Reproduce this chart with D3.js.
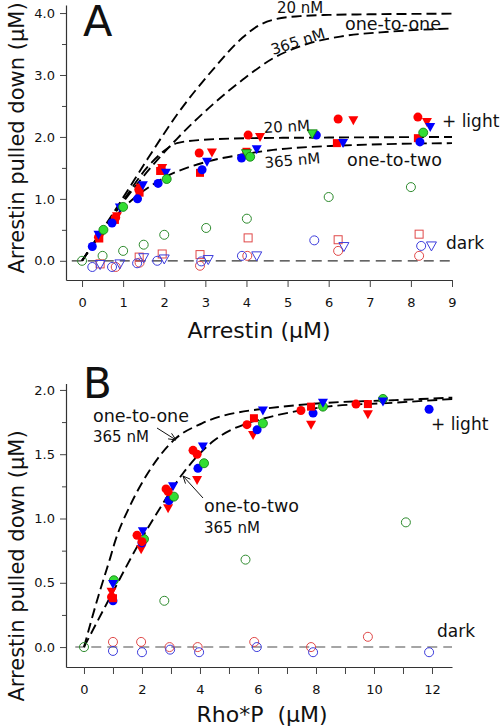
<!DOCTYPE html>
<html><head><meta charset="utf-8">
<script src="https://cdn.jsdelivr.net/npm/d3@7"></script>
<style>
body{margin:0;background:#fff}
svg{display:block}
text{font-family:"DejaVu Sans",Verdana,sans-serif;fill:#111}
</style>
</head><body>
<svg id="chart" width="500" height="728"></svg>
<script>
// ---------- Panel A data ----------
const aXTicks = [0,1,2,3,4,5,6,7,8,9];
const aYTicks = [0,1,2,3,4];
const aYMinor = [0.5,1.5,2.5,3.5];

const aCurve11_20  = [[0,0],[1,1.02],[1.6,1.65],[2.3,2.35],[3.2,3.1],[3.9,3.6],[4.3,3.8],[4.7,3.9],[5.3,3.95],[6,3.97],[7,3.98],[9,3.99]];
const aCurve11_365 = [[0,0],[1,0.95],[1.73,1.55],[2.31,1.97],[3.19,2.53],[3.92,2.93],[4.65,3.27],[5.47,3.5],[6.28,3.62],[7.5,3.7],[9,3.75]];
const aCurve12_20  = [[0,0],[1,0.97],[1.6,1.52],[1.97,1.76],[2.31,1.9],[2.87,1.95],[4.09,1.98],[6,1.99],[9,2.0]];
const aCurve12_365 = [[0,0],[0.5,0.47],[1,0.85],[1.97,1.33],[3.04,1.6],[3.84,1.71],[4.65,1.79],[6.28,1.86],[9,1.9]];

const aLightRedCircle   = [[0.4,0.38],[0.82,0.7],[1.38,1.15],[1.93,1.48],[2.85,1.74],[4.04,2.03],[6.23,2.29],[8.17,2.32]];
const aLightRedSquare   = [[0.42,0.36],[0.8,0.66],[1.4,1.1],[1.9,1.45],[2.87,1.42],[4.0,1.76],[6.2,1.9],[8.17,1.98]];
const aLightRedTri      = [[0.45,0.4],[0.85,0.72],[1.42,1.18],[1.95,1.5],[3.16,1.75],[4.33,2.0],[6.6,2.27],[8.39,2.24]];
const aLightBlueCircle  = [[0.25,0.23],[0.73,0.61],[1.35,1.0],[1.85,1.25],[2.92,1.47],[3.88,1.66],[5.7,2.03],[8.22,1.92]];
const aLightBlueTri     = [[0.4,0.42],[0.92,0.86],[1.48,1.22],[2.04,1.42],[3.04,1.6],[4.25,1.8],[6.35,1.9],[8.47,2.16]];
const aLightGreenCircle = [[0.52,0.5],[1.0,0.87],[2.06,1.32],[4.09,1.68],[8.3,2.07]];
const aLightGreenTri    = [[4.0,1.73],[5.6,2.05]];

const aDarkGreenCircle = [[0,0],[0.5,0.08],[1.0,0.16],[1.5,0.26],[2.0,0.42],[3.02,0.53],[4.01,0.68],[6.0,1.03],[8.0,1.19]];
const aDarkBlueCircle  = [[0.25,-0.1],[0.73,-0.1],[1.34,-0.04],[1.83,0.0],[2.9,-0.01],[3.89,0.08],[5.65,0.33],[8.25,0.24]];
const aDarkRedCircle   = [[0.82,-0.1],[1.4,-0.03],[2.87,-0.08],[4.02,0.08],[6.23,0.16],[8.2,0.08]];
const aDarkRedSquare   = [[0.44,-0.05],[1.39,0.06],[1.95,0.11],[2.87,0.1],[4.04,0.37],[6.23,0.34],[8.2,0.43]];
const aDarkBlueTri     = [[0.44,-0.06],[0.92,-0.05],[1.5,0.05],[2.0,0.03],[3.07,0.02],[4.25,0.08],[6.37,0.23],[8.5,0.24]];

// ---------- Panel B data ----------
const bXTicks = [0,2,4,6,8,10,12];
const bXMinor = [1,3,5,7,9,11];
const bYTicks = [0,0.5,1,1.5,2];
const bYMinor = [0.25,0.75,1.25,1.75];

const bCurve11 = [[0,0],[0.5,0.4],[0.9,0.69],[1.07,0.82],[1.59,1.1],[2.28,1.38],[3.1,1.61],[4.07,1.74],[5.72,1.84],[6.07,1.85],[8.38,1.9],[10.66,1.92],[12.7,1.94]];
const bCurve12 = [[0,0],[1,0.43],[1.93,0.82],[2.62,1.08],[3.41,1.35],[4.45,1.6],[5.62,1.74],[6.07,1.77],[8.38,1.87],[10.66,1.9],[12.7,1.93]];

const bLightRedCircle   = [[0.95,0.39],[1.83,0.87],[2.0,0.82],[2.83,1.23],[2.9,1.21],[3.76,1.53],[3.9,1.5],[5.62,1.73],[7.48,1.84],[9.38,1.89]];
const bLightRedSquare   = [[1.0,0.38],[5.86,1.78],[7.83,1.87],[9.79,1.89]];
const bLightRedTri      = [[0.95,0.43],[1.97,0.76],[2.9,1.08],[3.9,1.3],[5.83,1.65],[7.83,1.73],[9.79,1.81]];
const bLightBlueCircle  = [[1.0,0.36],[2.0,0.81],[2.93,1.14],[3.93,1.39],[5.97,1.69],[7.9,1.82],[11.9,1.85]];
const bLightBlueTri     = [[1.0,0.49],[2.03,0.9],[3.07,1.25],[4.1,1.56],[6.17,1.84],[8.24,1.9],[10.31,1.91]];
const bLightGreenCircle = [[1.03,0.52],[2.07,0.84],[3.1,1.17],[4.14,1.43],[6.17,1.74],[8.24,1.87],[10.31,1.93]];

const bDarkGreenCircle = [[0,0],[2.77,0.36],[5.57,0.68],[11.1,0.97]];
const bDarkRedCircle   = [[1.0,0.04],[1.97,0.04],[2.95,0.0],[3.92,0.0],[5.87,0.04],[7.83,0.0],[9.79,0.08]];
const bDarkBlueCircle  = [[1.0,-0.03],[2.0,-0.04],[2.97,-0.02],[3.97,-0.04],[5.96,0.0],[7.9,-0.04],[11.9,-0.04]];

// ---------- styles ----------
const RED = "#ff0000", BLUE = "#0000ff", GREEN = "#33dd33", GREEN_EDGE = "#0a7a0a";
const RED_O = "#e04848", BLUE_O = "#3c3cdc", GREEN_O = "#2e8b2e";

const svg = d3.select("#chart");

function marker(g, data, x, y, shape, fill, stroke, sw) {
  const sel = g.append("g");
  data.forEach(([a, b]) => {
    const cx = x(a), cy = y(b);
    let el;
    if (shape === "circle") {
      el = sel.append("circle").attr("cx", cx).attr("cy", cy).attr("r", 4.5);
    } else if (shape === "square") {
      el = sel.append("rect").attr("x", cx - 4).attr("y", cy - 4).attr("width", 8).attr("height", 8);
    } else {
      el = sel.append("path").attr("d", `M${cx-5},${cy-4}L${cx+5},${cy-4}L${cx},${cy+5}Z`);
    }
    el.attr("fill", fill).attr("stroke", stroke).attr("stroke-width", sw);
  });
}

function curve(g, data, x, y) {
  g.append("path").datum(data)
    .attr("d", d3.line().x(d => x(d[0])).y(d => y(d[1])).curve(d3.curveMonotoneX))
    .attr("fill", "none").attr("stroke", "#000").attr("stroke-width", 1.9)
    .attr("stroke-dasharray", "10,5");
}

function axes(x, y, xT, xMinor, yT, yMinor, yBase, xLeft, xFmt, yFmt) {
  const gx = svg.append("g").attr("transform", `translate(0,${yBase})`)
    .call(d3.axisBottom(x).tickValues(xT).tickFormat(xFmt).tickSize(7).tickPadding(11).tickSizeOuter(0));
  if (xMinor.length) svg.append("g").attr("transform", `translate(0,${yBase})`)
    .call(d3.axisBottom(x).tickValues(xMinor).tickFormat("").tickSize(7).tickSizeOuter(0))
    .call(s => s.select(".domain").remove());
  const gy = svg.append("g").attr("transform", `translate(${xLeft},0)`)
    .call(d3.axisLeft(y).tickValues(yT).tickFormat(yFmt).tickSize(6).tickPadding(5).tickSizeOuter(0));
  svg.append("g").attr("transform", `translate(${xLeft},0)`)
    .call(d3.axisLeft(y).tickValues(yMinor).tickFormat("").tickSize(4).tickSizeOuter(0))
    .call(s => s.select(".domain").remove());
  svg.selectAll(".domain").attr("stroke", "#333").attr("stroke-width", 1.2);
  svg.selectAll(".tick line").attr("stroke", "#444");
  svg.selectAll(".tick text").attr("font-size", 13).attr("font-family", "DejaVu Sans, Verdana, sans-serif").attr("fill", "#111");
}

function label(txt, x, y, size, rot) {
  const t = svg.append("text").attr("x", x).attr("y", y).attr("font-size", size)
    .style("white-space", "pre").text(txt);
  if (rot) t.attr("transform", `rotate(${rot},${x},${y})`);
  return t;
}

function arrow(x1, y1, x2, y2) {
  const g = svg.append("g").attr("stroke", "#111").attr("stroke-width", 1).attr("fill", "none");
  g.append("line").attr("x1", x1).attr("y1", y1).attr("x2", x2).attr("y2", y2);
  const ang = Math.atan2(y2 - y1, x2 - x1), L = 8, w = 0.42;
  g.append("path").attr("d",
    `M${x2 - L*Math.cos(ang - w)},${y2 - L*Math.sin(ang - w)}L${x2},${y2}L${x2 - L*Math.cos(ang + w)},${y2 - L*Math.sin(ang + w)}`);
}

// ---------- Panel A ----------
{
  const x = d3.scaleLinear().domain([-0.39, 9]).range([66, 452]);
  const y = d3.scaleLinear().domain([-0.31, 4.13]).range([280, 5]);
  axes(x, y, aXTicks, [], aYTicks, aYMinor, 280, 66, d3.format("d"), d3.format(".1f"));
  const g = svg.append("g");
  g.append("line").attr("x1", x(-0.25)).attr("x2", x(9)).attr("y1", y(0)).attr("y2", y(0))
    .attr("stroke", "#333").attr("stroke-width", 1.3).attr("stroke-dasharray", "10,6");
  [aCurve11_20, aCurve11_365, aCurve12_20, aCurve12_365].forEach(c => curve(g, c, x, y));

  marker(g, aDarkGreenCircle, x, y, "circle", "none", GREEN_O, 1);
  marker(g, aDarkRedSquare, x, y, "square", "none", RED_O, 1);
  marker(g, aDarkRedCircle, x, y, "circle", "none", RED_O, 1);
  marker(g, aDarkBlueCircle, x, y, "circle", "none", BLUE_O, 1);
  marker(g, aDarkBlueTri, x, y, "tri", "none", BLUE_O, 1);

  marker(g, aLightRedSquare, x, y, "square", RED, "none", 0);
  marker(g, aLightRedTri, x, y, "tri", RED, "none", 0);
  marker(g, aLightRedCircle, x, y, "circle", RED, "none", 0);
  marker(g, aLightBlueCircle, x, y, "circle", BLUE, "none", 0);
  marker(g, aLightBlueTri, x, y, "tri", BLUE, "none", 0);
  marker(g, aLightGreenTri, x, y, "tri", GREEN, GREEN_EDGE, 0.8);
  marker(g, aLightGreenCircle, x, y, "circle", GREEN, GREEN_EDGE, 0.8);

  label("A", 83, 36, 43);
  label("20 nM", 277, 13, 15);
  label("one-to-one", 345, 30, 17.5);
  label("365 nM", 273, 55, 15, -18);
  label("20 nM", 264, 133, 15, -3);
  label("365 nM", 265, 168, 15, -5);
  label("one-to-two", 347, 166, 17.5);
  label("+ light", 442, 127, 17);
  label("dark", 446, 249, 17);

  svg.append("text").attr("x", 259).attr("y", 338).attr("font-size", 22)
    .attr("text-anchor", "middle").text("Arrestin (μM)");
  svg.append("text").attr("transform", "translate(24,138) rotate(-90)").attr("font-size", 21)
    .attr("text-anchor", "middle").text("Arrestin pulled down (μM)");
}

// ---------- Panel B ----------
{
  const x = d3.scaleLinear().domain([-0.62, 12.69]).range([66, 452]);
  const y = d3.scaleLinear().domain([-0.155, 2.05]).range([667, 383.5]);
  axes(x, y, bXTicks, bXMinor, bYTicks, bYMinor, 667, 66, d3.format("d"), d3.format(".1f"));
  const g = svg.append("g");
  g.append("line").attr("x1", x(-0.3)).attr("x2", x(12.69)).attr("y1", y(0)).attr("y2", y(0))
    .attr("stroke", "#888").attr("stroke-width", 1.5).attr("stroke-dasharray", "10,6");
  [bCurve11, bCurve12].forEach(c => curve(g, c, x, y));

  marker(g, bDarkGreenCircle, x, y, "circle", "none", GREEN_O, 1);
  marker(g, bDarkRedCircle, x, y, "circle", "none", RED_O, 1);
  marker(g, bDarkBlueCircle, x, y, "circle", "none", BLUE_O, 1);

  marker(g, bLightRedTri, x, y, "tri", RED, "none", 0);
  marker(g, bLightBlueCircle, x, y, "circle", BLUE, "none", 0);
  marker(g, bLightGreenCircle, x, y, "circle", GREEN, GREEN_EDGE, 0.8);
  marker(g, bLightBlueTri, x, y, "tri", BLUE, "none", 0);
  marker(g, bLightRedSquare, x, y, "square", RED, "none", 0);
  marker(g, bLightRedCircle, x, y, "circle", RED, "none", 0);

  label("B", 83, 398, 42);
  label("one-to-one", 93, 422, 17.5);
  label("365 nM", 93, 442, 15);
  arrow(157, 428, 176, 440);
  label("one-to-two", 204, 512, 17.5);
  label("365 nM", 204, 533, 15);
  arrow(203, 498, 183, 476);
  label("+ light", 431, 430, 17);
  label("dark", 437, 637, 17);

  svg.append("text").attr("x", 262).attr("y", 722).attr("font-size", 22)
    .attr("text-anchor", "middle").style("white-space", "pre").text("Rho*P  (μM)");
  svg.append("text").attr("transform", "translate(24,566) rotate(-90)").attr("font-size", 21)
    .attr("text-anchor", "middle").text("Arrestin pulled down (μM)");
}
</script>
</body></html>
